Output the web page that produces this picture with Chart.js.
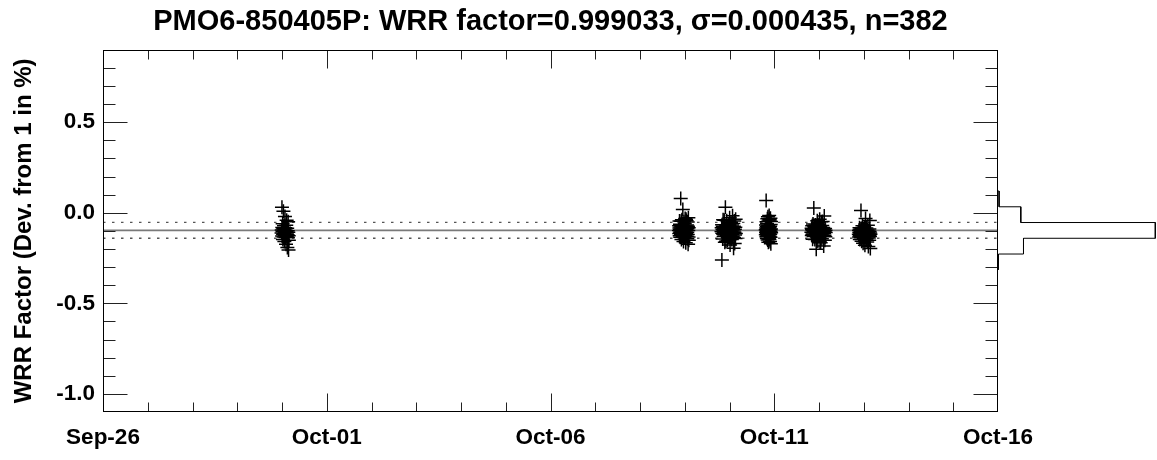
<!DOCTYPE html>
<html>
<head>
<meta charset="utf-8">
<title>PMO6-850405P WRR factor</title>
<script src="https://cdn.jsdelivr.net/npm/chart.js@4.4.1/dist/chart.umd.min.js"></script>
<style>
  html, body { margin: 0; padding: 0; background: #fff; }
  #wrap { position: relative; width: 1157px; height: 460px; }
  #main { position: absolute; left: 0; top: 0; }
  #hist { position: absolute; left: 990px; top: 0; }
</style>
</head>
<body>
<div id="wrap">
  <canvas id="main" width="1157" height="460"></canvas>
  <canvas id="hist" width="167" height="460"></canvas>
</div>
<script>
// result of the comparison against the WRR
const instrument = 'PMO6-850405P';
const wrrFactor = 0.999033;
const sigma = 0.000435;

// x axis in days since Sep-26 00:00
const xRange = [0, 20];
const xTickDays = [0, 5, 10, 15, 20];
const xTickLabels = ['Sep-26', 'Oct-01', 'Oct-06', 'Oct-11', 'Oct-16'];
// y axis: deviation from 1 in %
const yRange = [-1.1, 0.9];
const yTickValues = [-1.0, -0.5, 0.0, 0.5];

// measurement runs: time (days) and deviation (%)
const run1Days = [3.990,3.994,3.999,4.003,4.006,4.011,4.015,4.020,4.024,4.027,
  4.032,4.036,4.041,4.045,4.048,4.053,4.057,4.062,4.066,4.069,
  4.074,4.078,4.083,4.087,4.090,4.095,4.099,4.104,4.108,4.111,
  4.116,4.120,4.125,4.129,4.132,4.137,4.141,4.146,4.150,4.154];
const run1Vals = [-0.112,-0.095,0.030,-0.128,-0.081,-0.104,-0.061,-0.147,-0.119,-0.088,
  0.008,-0.133,-0.099,-0.072,-0.115,-0.158,-0.091,-0.124,-0.021,-0.107,
  -0.083,-0.137,-0.096,-0.118,-0.174,-0.069,-0.102,-0.041,-0.129,-0.111,
  -0.086,-0.192,-0.121,-0.099,-0.136,-0.049,-0.108,-0.205,-0.127,-0.152];

const run2Days = [12.870,12.874,12.877,12.881,12.883,12.887,12.891,12.894,12.897,12.900,
  12.904,12.906,12.910,12.914,12.916,12.920,12.924,12.926,12.930,12.934,
  12.936,12.939,12.943,12.947,12.949,12.953,12.957,12.959,12.963,12.967,
  12.969,12.972,12.976,12.980,12.982,12.986,12.990,12.992,12.996,13.000,
  13.002,13.005,13.009,13.013,13.015,13.019,13.023,13.025,13.029,13.033,
  13.035,13.038,13.042,13.046,13.048,13.052,13.056,13.058,13.062,13.066,
  13.068,13.071,13.075,13.079,13.081,13.085,13.089,13.091];
const run2Vals = [-0.098,-0.071,-0.115,-0.084,-0.046,-0.127,-0.092,-0.063,-0.108,-0.135,
  -0.079,-0.101,0.079,-0.089,-0.118,-0.047,-0.094,-0.148,-0.076,-0.105,
  -0.039,-0.122,-0.087,-0.099,-0.066,-0.131,0.018,-0.083,-0.112,-0.095,
  -0.071,-0.159,-0.103,-0.088,-0.049,-0.119,-0.078,-0.097,-0.138,-0.061,
  -0.091,-0.109,-0.032,-0.085,-0.124,-0.073,-0.166,-0.101,-0.036,-0.093,
  -0.114,-0.080,-0.044,-0.129,-0.096,-0.068,-0.107,-0.143,-0.087,-0.051,
  -0.120,-0.075,-0.174,-0.098,-0.027,-0.133,-0.082,-0.152];

const run3Days = [13.821,13.825,13.830,13.834,13.839,13.843,13.847,13.851,13.857,13.860,
  13.864,13.869,13.873,13.878,13.882,13.886,13.890,13.896,13.899,13.903,
  13.908,13.912,13.917,13.921,13.925,13.929,13.935,13.938,13.942,13.947,
  13.951,13.956,13.960,13.964,13.968,13.974,13.977,13.981,13.986,13.990,
  13.995,13.999,14.003,14.007,14.013,14.016,14.020,14.025,14.029,14.034,
  14.038,14.042,14.046,14.052,14.055,14.059,14.064,14.068,14.073,14.077,
  14.081,14.085,14.091,14.094,14.098,14.103,14.107,14.112,14.116,14.120,
  14.124,14.130,14.133,14.137,14.142];
const run3Vals = [-0.104,-0.082,-0.261,-0.066,-0.113,-0.091,-0.145,-0.074,-0.038,-0.118,
  -0.097,-0.131,-0.085,-0.109,-0.041,-0.122,-0.094,-0.162,-0.079,-0.101,
  0.031,-0.116,-0.088,-0.157,-0.069,-0.105,-0.092,-0.044,-0.126,-0.083,
  -0.111,-0.153,-0.098,-0.072,-0.119,-0.127,-0.090,-0.107,-0.063,-0.134,
  -0.086,-0.115,-0.028,-0.099,-0.178,-0.077,-0.124,-0.093,-0.110,-0.052,
  -0.140,-0.081,-0.103,-0.147,-0.067,-0.120,-0.095,-0.017,-0.129,-0.087,
  -0.112,-0.059,-0.196,-0.101,-0.075,-0.136,-0.046,-0.108,-0.169,-0.091,
  -0.123,-0.080,-0.142,-0.035,-0.114];

const run4Days = [14.810,14.812,14.815,14.817,14.819,14.821,14.824,14.826,14.828,14.830,
  14.832,14.835,14.837,14.839,14.841,14.843,14.846,14.848,14.850,14.853,
  14.854,14.857,14.859,14.861,14.864,14.866,14.868,14.870,14.872,14.875,
  14.877,14.879,14.881,14.884,14.886,14.888,14.890,14.892,14.895,14.897,
  14.899,14.901,14.904,14.906,14.908,14.910,14.912,14.915,14.917,14.919,
  14.921,14.924,14.926,14.928,14.930];
const run4Vals = [-0.093,-0.121,-0.067,-0.108,0.068,-0.084,-0.132,-0.049,-0.099,-0.115,
  -0.076,-0.142,-0.104,-0.061,-0.088,-0.127,-0.033,-0.095,-0.112,-0.150,
  -0.081,-0.106,-0.022,-0.119,-0.070,-0.097,-0.163,-0.086,-0.045,-0.124,
  -0.101,-0.078,-0.144,-0.091,-0.015,-0.113,-0.037,-0.147,-0.096,-0.083,
  -0.129,-0.040,-0.107,-0.158,-0.074,-0.118,-0.092,-0.030,-0.135,-0.102,
  -0.064,-0.171,-0.089,-0.048,-0.110];

const run5Days = [15.830,15.835,15.839,15.843,15.848,15.853,15.857,15.861,15.866,15.871,
  15.875,15.879,15.884,15.889,15.893,15.897,15.902,15.907,15.911,15.915,
  15.920,15.925,15.929,15.933,15.938,15.943,15.947,15.951,15.956,15.961,
  15.965,15.969,15.974,15.979,15.983,15.987,15.992,15.997,16.001,16.005,
  16.010,16.015,16.019,16.023,16.028,16.033,16.037,16.041,16.046,16.051,
  16.055,16.059,16.064,16.069,16.073,16.077,16.082,16.087,16.091,16.095,
  16.100,16.105,16.109,16.113,16.118,16.123,16.127,16.131,16.136,16.141,
  16.145,16.150];
const run5Vals = [-0.107,-0.085,-0.126,-0.094,-0.071,-0.118,-0.146,-0.099,-0.062,-0.112,
  -0.088,-0.131,0.027,-0.103,-0.077,-0.121,-0.096,-0.148,-0.083,-0.109,
  -0.068,-0.125,-0.092,-0.115,-0.202,-0.100,-0.079,-0.134,-0.087,-0.044,
  -0.113,-0.097,-0.156,-0.073,-0.120,-0.090,-0.105,-0.065,-0.128,-0.082,
  -0.111,-0.035,-0.098,-0.161,-0.076,-0.116,-0.166,-0.093,-0.104,-0.050,
  -0.122,-0.086,-0.143,-0.101,-0.070,-0.117,-0.048,-0.095,-0.130,-0.081,
  -0.108,-0.183,-0.091,-0.114,-0.018,-0.124,-0.102,-0.151,-0.087,-0.132,
  -0.097,-0.109];

const run6Days = [16.890,16.894,16.897,16.901,16.905,16.908,16.912,16.916,16.919,16.923,
  16.927,16.930,16.934,16.938,16.941,16.945,16.949,16.952,16.956,16.960,
  16.963,16.967,16.971,16.974,16.978,16.982,16.985,16.989,16.993,16.996,
  17.000,17.004,17.007,17.011,17.015,17.018,17.022,17.026,17.029,17.033,
  17.037,17.040,17.044,17.048,17.051,17.055,17.059,17.062,17.066,17.070,
  17.073,17.077,17.081,17.084,17.088,17.092,17.095,17.099,17.103,17.106,
  17.110,17.114,17.117,17.121,17.125,17.128,17.132,17.136,17.139,17.143,
  17.147,17.150];
const run6Vals = [-0.118,-0.096,-0.134,-0.107,-0.082,-0.125,-0.148,-0.112,-0.091,-0.129,
  -0.103,-0.138,-0.116,0.012,-0.099,-0.121,-0.087,-0.157,-0.110,-0.131,
  -0.094,-0.119,-0.072,-0.136,-0.105,-0.127,-0.168,-0.113,-0.089,-0.124,
  -0.101,-0.140,-0.117,-0.078,-0.132,-0.109,-0.093,-0.179,-0.122,-0.106,
  -0.130,-0.031,-0.115,-0.098,-0.145,-0.126,-0.084,-0.111,-0.143,-0.102,
  -0.120,-0.161,-0.095,-0.128,-0.114,-0.069,-0.133,-0.108,-0.186,-0.123,
  -0.100,-0.139,-0.117,-0.152,-0.090,-0.125,-0.104,-0.043,-0.131,-0.112,
  -0.197,-0.119];

// histogram of the deviations, bins 2 sigma wide around the mean, top to bottom
const histCounts = [2, 42, 290, 47, 1];

const runs = [
  [run1Days, run1Vals], [run2Days, run2Vals], [run3Days, run3Vals],
  [run4Days, run4Vals], [run5Days, run5Vals], [run6Days, run6Vals]
];
const points = runs.flatMap(([days, vals]) => days.map((d, i) => ({ x: d, y: vals[i] })));

const meanPct = (wrrFactor - 1) * 100;
const sigmaPct = sigma * 100;

Chart.defaults.font.family = "'Liberation Sans', Arial, Helvetica, sans-serif";
Chart.defaults.font.weight = 'bold';
Chart.defaults.color = '#000';

const hline = (y, style) => Object.assign({
  type: 'line',
  data: [{ x: xRange[0], y: y }, { x: xRange[1], y: y }],
  pointRadius: 0,
  fill: false,
  order: 2
}, style);

// frame with inward ticks on all four sides
const framePlugin = {
  id: 'frame',
  afterDatasetsDraw(chart) {
    const { ctx, chartArea: a, scales: { x, y } } = chart;
    const L = Math.round(a.left) + 0.5, R = Math.round(a.right) - 0.5;
    const T = Math.round(a.top) + 0.5, B = Math.round(a.bottom) - 0.5;
    ctx.save();
    ctx.lineWidth = 1;
    ctx.strokeStyle = '#222';
    ctx.beginPath();
    for (let d = xRange[0] + 1; d < xRange[1]; d++) {
      const px = Math.round(x.getPixelForValue(d)) + 0.5;
      const len = xTickDays.includes(d) ? 18 : 9;
      ctx.moveTo(px, B); ctx.lineTo(px, B - len);
      ctx.moveTo(px, T); ctx.lineTo(px, T + len);
    }
    for (let k = -10; k <= 9; k++) {
      const v = k / 10;
      const py = Math.round(y.getPixelForValue(v)) + 0.5;
      const len = k % 5 === 0 ? 24 : 12;
      ctx.moveTo(L, py); ctx.lineTo(L + len, py);
      ctx.moveTo(R, py); ctx.lineTo(R - len, py);
    }
    ctx.stroke();
    ctx.strokeStyle = '#000';
    ctx.strokeRect(L, T, R - L, B - T);
    ctx.restore();
  }
};

new Chart(document.getElementById('main'), {
  type: 'scatter',
  data: {
    datasets: [
      hline(meanPct, { borderColor: '#7a7a7a', borderWidth: 1.7 }),
      hline(meanPct + sigmaPct, { borderColor: '#555', borderWidth: 1.4, borderDash: [2.5, 6.5] }),
      hline(meanPct - sigmaPct, { borderColor: '#555', borderWidth: 1.4, borderDash: [2.5, 6.5] }),
      {
        data: points,
        pointStyle: 'cross',
        pointRadius: 7,
        pointHoverRadius: 7,
        borderColor: '#000',
        borderWidth: 1.5,
        order: 1
      }
    ]
  },
  options: {
    responsive: false,
    animation: false,
    devicePixelRatio: 1,
    events: [],
    layout: { padding: { left: 0, right: 159, top: 0, bottom: 0 } },
    plugins: {
      legend: { display: false },
      tooltip: { enabled: false },
      title: {
        display: true,
        fullSize: false,
        text: `${instrument}: WRR factor=${wrrFactor.toFixed(6)}, σ=${sigma.toFixed(6)}, n=${points.length}`,
        font: { size: 29, weight: 'bold' },
        color: '#000',
        padding: { top: 5, bottom: 10 }
      }
    },
    scales: {
      x: {
        type: 'linear',
        min: xRange[0],
        max: xRange[1],
        grid: { display: false, drawTicks: false },
        border: { display: false },
        afterBuildTicks: (s) => { s.ticks = xTickDays.map(v => ({ value: v })); },
        afterFit: (s) => { s.height = 48; },
        ticks: {
          autoSkip: false,
          maxRotation: 0,
          padding: 12,
          font: { size: 22.5, weight: 'bold' },
          callback: (v) => xTickLabels[xTickDays.indexOf(v)]
        }
      },
      y: {
        min: yRange[0],
        max: yRange[1],
        grid: { display: false, drawTicks: false },
        border: { display: false },
        afterBuildTicks: (s) => { s.ticks = yTickValues.map(v => ({ value: v })); },
        afterFit: (s) => { s.width = 103; },
        ticks: {
          padding: 8,
          font: { size: 22.5, weight: 'bold' },
          callback: (v) => Number(v).toFixed(1)
        },
        title: {
          display: true,
          text: 'WRR Factor (Dev. from 1 in %)',
          font: { size: 24, weight: 'bold' },
          padding: { top: 10, bottom: 0 }
        }
      }
    }
  },
  plugins: [framePlugin]
});

// histogram outline beside the right axis, sharing the y range
const binEdges = histCounts.map((c, k) => meanPct + sigmaPct * (5 - 2 * k));
binEdges.push(meanPct - sigmaPct * 5);
const outline = [{ x: 0, y: binEdges[0] }];
histCounts.forEach((c, k) => {
  outline.push({ x: c, y: binEdges[k] });
  outline.push({ x: c, y: binEdges[k + 1] });
});
outline.push({ x: 0, y: binEdges[binEdges.length - 1] });

new Chart(document.getElementById('hist'), {
  type: 'scatter',
  data: {
    datasets: [{
      data: outline,
      showLine: true,
      pointRadius: 0,
      borderColor: '#000',
      borderWidth: 1,
      clip: false
    }]
  },
  options: {
    responsive: false,
    animation: false,
    devicePixelRatio: 1,
    events: [],
    layout: { padding: { left: 8, right: 1.7, top: 50, bottom: 48 } },
    plugins: { legend: { display: false }, tooltip: { enabled: false } },
    scales: {
      x: { display: false, min: 0, max: Math.max(...histCounts) },
      y: { display: false, min: yRange[0], max: yRange[1] }
    }
  }
});
</script>
</body>
</html>
